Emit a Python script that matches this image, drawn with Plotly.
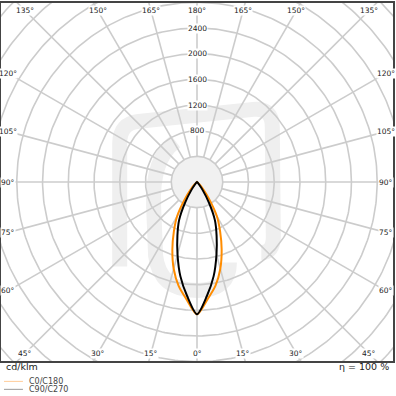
import numpy as np
import plotly.graph_objects as go

# ---------------- data ----------------
gamma_deg = [0, 5, 10, 15, 20, 25, 30, 35, 40, 45, 50, 55, 60, 65, 70, 75, 80, 85, 90]
c0_c180 = [2060, 1840, 1645, 1400, 1120, 850, 620, 340, 150, 50, 15, 5, 0, 0, 0, 0, 0, 0, 0]
c90_c270 = [2060, 1780, 1490, 1170, 890, 660, 370, 150, 50, 15, 5, 0, 0, 0, 0, 0, 0, 0, 0]
series_names = ["C0/C180", "C90/C270"]
series_colors = ["#ff8c00", "#000000"]
legend_colors = ["#ffcc99", "#999999"]

ring_values = [400, 800, 1200, 1600, 2000, 2400, 2800, 3200, 3600, 4000, 4400, 4800]
radial_labels = [800, 1200, 1600, 2000, 2400]
angle_ticks = [0, 15, 30, 45, 60, 75, 90, 105, 120, 135, 150, 165, 180]
unit_text = "cd/klm"
eta_text = "η = 100 %"

# ---------------- geometry ----------------
W, H = 396, 396
ML, MR, MT, MB = 1, 2, 1, 35
PW, PH = W - ML - MR, H - MT - MB
S = 15.5  # cd/klm per pixel
CX_PX, CY_PX = ML + PW / 2, MT + PH / 2
XR = PW / 2 * S
YR = PH / 2 * S


def px2d(px, py):
    return ((px - CX_PX) * S, (CY_PX - py) * S)


def px2paper(px, py):
    return ((px - ML) / PW, (MT + PH - py) / PH)


fig = go.Figure()

# watermark (decorative)
wm_color = "#efefef"
wm_paths = [
    [("M", (120, 266)), ("L", (120, 142)), ("Q", (120, 122), (139, 120)), ("L", (254, 108)),
     ("Q", (273, 106), (273, 126)), ("L", (274, 236)), ("Q", (274, 252), (262, 252))],
    [("M", (176, 140)), ("Q", (152, 158), (154, 205)), ("L", (156, 255)),
     ("Q", (160, 290), (198, 290)), ("Q", (230, 290), (230, 262))],
]
shapes = []
for p in wm_paths:
    d = ""
    for seg in p:
        cmd = seg[0]
        pts = " ".join("%.1f,%.1f" % px2d(*pt) for pt in seg[1:])
        d += cmd + " " + pts + " "
    shapes.append(dict(type="path", path=d, xref="x", yref="y",
                       line=dict(color=wm_color, width=15), layer="below"))
# center disc fill
r0 = ring_values[0]
shapes.append(dict(type="circle", xref="x", yref="y", x0=-r0, x1=r0, y0=-r0, y1=r0,
                   fillcolor="#f1f1f1", line=dict(width=0), layer="below"))

# grid rings
t = np.linspace(0, 2 * np.pi, 361)
gx, gy = [], []
for rv in ring_values:
    gx += list(rv * np.cos(t)) + [None]
    gy += list(rv * np.sin(t)) + [None]
# spokes every 15 deg
for a in range(0, 360, 15):
    ar = np.deg2rad(a)
    gx += [r0 * np.sin(ar), 6000 * np.sin(ar), None]
    gy += [-r0 * np.cos(ar), -6000 * np.cos(ar), None]
fig.add_trace(go.Scatter(x=gx, y=gy, mode="lines", line=dict(color="#cccccc", width=1.6),
                         hoverinfo="skip", showlegend=False))

# curves
g = np.deg2rad(np.array(gamma_deg, dtype=float))
for vals, col, name in zip([c0_c180, c90_c270], series_colors, series_names):
    I = np.array(vals, dtype=float)
    xr = I * np.sin(g)
    yr = -I * np.cos(g)
    x = list(xr[::-1]) + list(-xr[1:])
    y = list(yr[::-1]) + list(yr[1:])
    fig.add_trace(go.Scatter(x=x, y=y, mode="lines", name=name,
                             line=dict(color=col, width=2, shape="spline", smoothing=0.8),
                             showlegend=False))

annotations = []
# radial labels
for v in radial_labels:
    annotations.append(dict(x=0, y=v, xref="x", yref="y", text=str(v), showarrow=False,
                            font=dict(family="DejaVu Sans", size=7.5, color="#222222"),
                            bgcolor="white", borderpad=0, xanchor="center", yanchor="middle"))

# angle labels along the inset box
HX, HY = 189.0, 172.5
for a in angle_ticks:
    ar = np.deg2rad(a)
    for sgn in ([1] if a in (0, 180) else [1, -1]):
        dx, dy = sgn * np.sin(ar), -np.cos(ar)
        tt = min(HX / abs(dx) if abs(dx) > 1e-9 else 1e9, HY / abs(dy) if abs(dy) > 1e-9 else 1e9)
        annotations.append(dict(x=dx * tt * S, y=dy * tt * S, xref="x", yref="y",
                                text="%d°" % a, showarrow=False,
                                font=dict(family="DejaVu Sans", size=7.5, color="#222222"),
                                bgcolor="white", borderpad=0,
                                xanchor="center", yanchor="middle"))

# texts below the box
ux, uy = px2paper(4, 367)
annotations.append(dict(x=ux, y=uy, xref="paper", yref="paper", text=unit_text, showarrow=False,
                        font=dict(family="DejaVu Sans", size=9.5, color="#222222"),
                        xanchor="left", yanchor="middle"))
ex, ey = px2paper(392, 367)
annotations.append(dict(x=ex, y=ey, xref="paper", yref="paper", text=eta_text, showarrow=False,
                        font=dict(family="DejaVu Sans", size=9.5, color="#222222"),
                        xanchor="right", yanchor="middle"))
# legend
for i, (name, lc) in enumerate(zip(series_names, legend_colors)):
    py = 381.5 + 8 * i
    x0, y0 = px2paper(4, py)
    x1, _ = px2paper(23, py)
    shapes.append(dict(type="line", xref="paper", yref="paper", x0=x0, x1=x1, y0=y0, y1=y0,
                       line=dict(color=lc, width=1)))
    tx, _ = px2paper(27, py)
    annotations.append(dict(x=tx, y=y0, xref="paper", yref="paper", text=name, showarrow=False,
                            font=dict(family="DejaVu Sans", size=8, color="#444444"),
                            xanchor="left", yanchor="middle"))

fig.update_layout(
    width=W, height=H,
    margin=dict(l=ML, r=MR, t=MT, b=MB, pad=0),
    paper_bgcolor="white", plot_bgcolor="white",
    xaxis=dict(range=[-XR, XR], showgrid=False, zeroline=False, showticklabels=False,
               ticks="", showline=True, mirror=True, linecolor="#444444", linewidth=2,
               fixedrange=True),
    yaxis=dict(range=[-YR, YR], showgrid=False, zeroline=False, showticklabels=False,
               ticks="", showline=True, mirror=True, linecolor="#444444", linewidth=2,
               fixedrange=True),
    shapes=shapes, annotations=annotations, showlegend=False,
)

fig.write_html("out.html")
